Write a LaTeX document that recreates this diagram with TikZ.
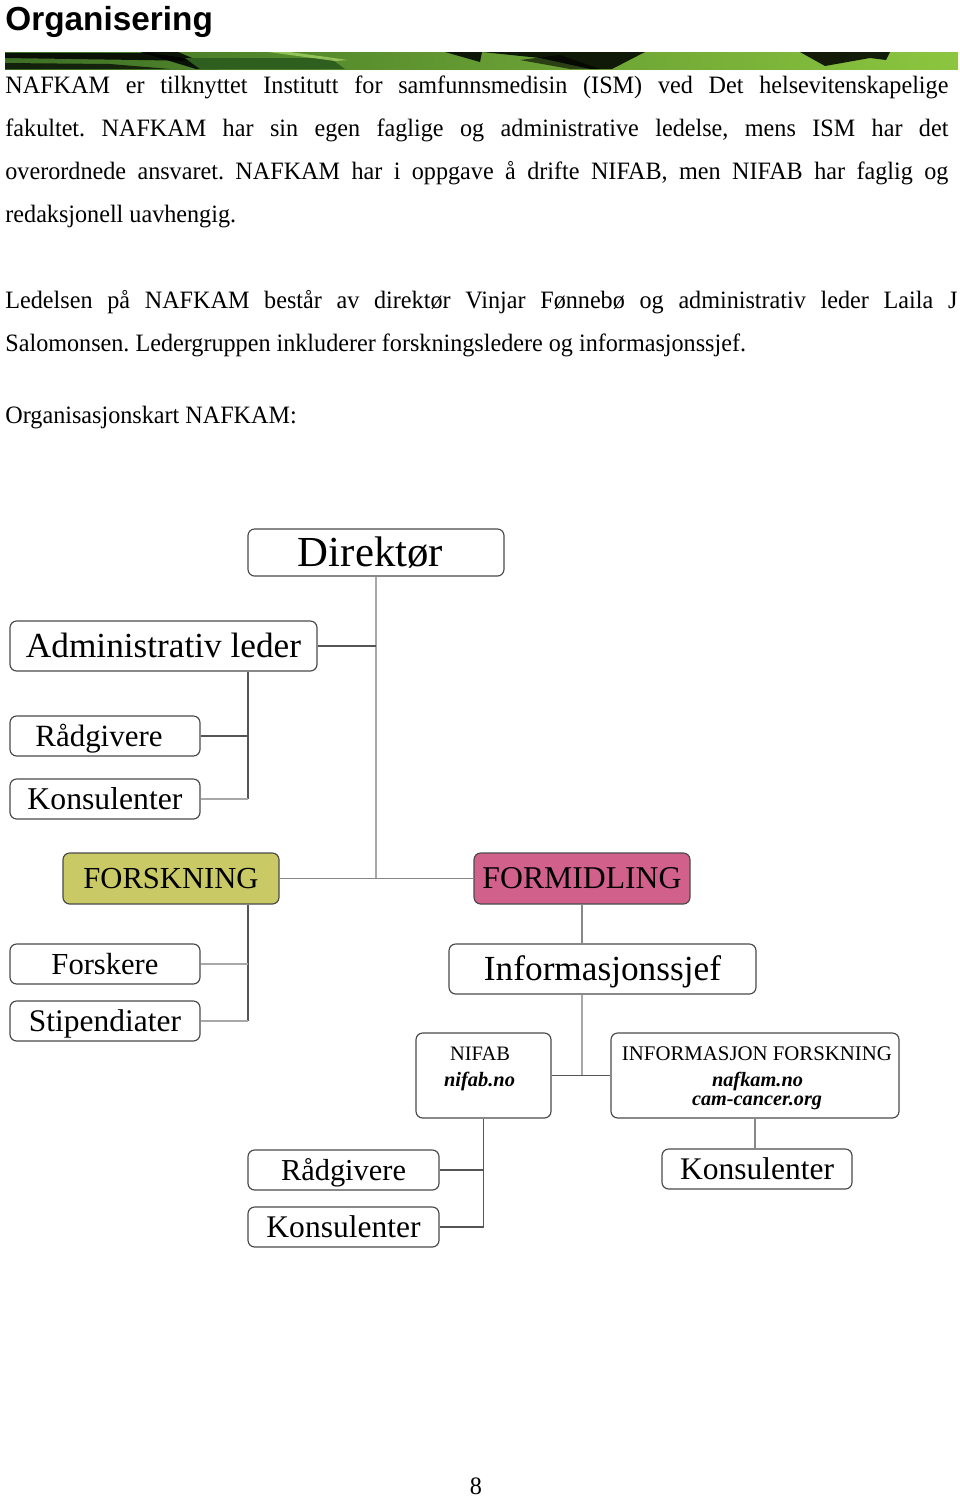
\documentclass[tikz,border=0pt]{standalone}
\usepackage{fontspec}
\usepackage{graphicx}
\newfontfamily\bodyfont[FakeStretch=0.966]{Liberation Serif}
\newfontfamily\chartfont{Liberation Serif}
\newfontfamily\titlefont{Liberation Sans}
\frenchspacing
\newcommand\fw[2]{\resizebox{\dimexpr #1pt*48/100\relax}{!}{\rule[-2.2pt]{0pt}{11pt}#2}}
\newcommand\fwn[2]{\resizebox{\dimexpr #1pt*48/100\relax}{!}{#2}}
\newcommand\jl[2]{\makebox[\dimexpr #1pt*48/100\relax][s]{#2}}
\newcommand\pxsp[1]{\kern\dimexpr #1pt*48/100\relax\relax}
\definecolor{forskc}{HTML}{C9C966}
\definecolor{formidc}{HTML}{D1618B}
\definecolor{bdr}{HTML}{4A4A4A}
\definecolor{lnd}{HTML}{555555}
\definecolor{lnl}{HTML}{A8A8A8}
\definecolor{lnm}{HTML}{888888}
\definecolor{gA}{HTML}{3D6F25}
\definecolor{gB}{HTML}{5E9E35}
\definecolor{gC}{HTML}{8CC63F}
\definecolor{gD}{HTML}{2F5F1F}
\begin{document}
\begin{tikzpicture}[x=0.48pt,y=-0.48pt,
  box/.style={draw=bdr, line width=0.55pt, rounded corners=3.2pt, inner sep=0pt, fill=white, font=\chartfont},
  sz/.style 2 args={minimum width=#1*0.48pt, minimum height=#2*0.48pt},
  txt/.style={anchor=base west, inner sep=0pt, font=\bodyfont\fontsize{12}{14}\selectfont},
  small/.style={anchor=base, inner sep=0pt, font=\chartfont},
  con/.style={line width=0.5pt}]
\useasboundingbox[fill=white] (0,0) rectangle (960,1498);

% header
\node[anchor=base west, inner sep=0pt, font=\titlefont\fontsize{16}{19}\selectfont\bfseries] (title) at (5,30) {Organisering};
\shade[left color=gA, middle color=gB, right color=gC] (5,52) rectangle (958,69);
\fill[black, opacity=0.85] (5,53) -- (150,53) -- (205,61) -- (5,58) -- cycle;
\fill[black, opacity=0.7] (5,63) -- (110,64) -- (170,69) -- (5,69) -- cycle;
\fill[black, opacity=0.85] (140,52) -- (178,52) -- (218,69) -- (196,69) -- cycle;
\fill[gD] (185,58) -- (330,58) -- (345,69) -- (200,69) -- cycle;
\fill[gC!80!white, opacity=0.8] (268,52) -- (290,52) -- (348,60) -- (335,61) -- cycle;
\fill[black, opacity=0.85] (445,52) -- (482,52) -- (480,62) -- cycle;
\fill[black, opacity=0.85] (482,52) -- (645,52) -- (612,69) -- (590,69) -- (540,58) -- cycle;
\fill[black, opacity=0.6] (520,60) -- (560,55) -- (600,69) -- (570,69) -- cycle;
\fill[black, opacity=0.85] (800,52) -- (890,52) -- (886,60) -- (870,58) -- (825,66) -- cycle;

% body text
\node[txt] (l1) at (5,93) {\jl{943}{NAFKAM er tilknyttet Institutt for samfunnsmedisin (ISM) ved Det helsevitenskapelige}};
\node[txt] (l2) at (5,136) {\jl{943}{fakultet. NAFKAM har sin egen faglige og administrative ledelse, mens ISM har det}};
\node[txt] (l3) at (5,179) {\jl{943}{overordnede ansvaret. NAFKAM har i oppgave å drifte NIFAB, men NIFAB har faglig og}};
\node[txt] (l4) at (5,222) {redaksjonell uavhengig.};
\node[txt] (l5) at (5,308) {\jl{952}{Ledelsen på NAFKAM består av direktør Vinjar Fønnebø og administrativ leder Laila J}};
\node[txt] (l6) at (5,351) {Salomonsen. Ledergruppen inkluderer forskningsledere og informasjonssjef.};
\node[txt] (l7) at (5,423) {Organisasjonskart NAFKAM:};
\node[txt, anchor=base] (pg) at (476,1494) {8};

% chart boxes
\node[box, sz={256}{47}] (dir) at (376,552.5) {\fw{145}{Direktør}\pxsp{11}};
\node[box, sz={307}{50}] (adm) at (163.5,646) {\fw{275}{Administrativ leder}};
\node[box, sz={190}{40}] (rad1) at (105,736) {\fw{127}{Rådgivere}\pxsp{12}};
\node[box, sz={190}{40}] (kon1) at (105,799) {\fw{155}{Konsulenter}};
\node[box, fill=forskc, sz={216}{51}] (fors) at (171,878.5) {\fw{175}{FORSKNING}};
\node[box, fill=formidc, sz={216}{51}] (form) at (582,878.5) {\fw{199}{FORMIDLING}};
\node[box, sz={190}{40}] (forsk) at (105,964) {\fw{107}{Forskere}};
\node[box, sz={190}{40}] (stip) at (105,1021) {\fw{152}{Stipendiater}};
\node[box, sz={307}{50}] (info) at (602.5,969) {\fw{237}{Informasjonssjef}};
\node[box, sz={135}{85}] (nifab) at (483.5,1075.5) {};
\node[box, sz={288}{85}] (infof) at (755,1075.5) {};
\node[box, sz={191}{40}] (rad2) at (343.5,1170) {\fw{125}{Rådgivere}};
\node[box, sz={191}{40}] (kon2) at (343.5,1227) {\fw{154}{Konsulenter}};
\node[box, sz={190}{40}] (kon3) at (757,1169) {\fw{154}{Konsulenter}};

\node[small] (nifab1) at (480,1060) {\fwn{60}{NIFAB}};
\node[small] (nifab2) at (479.5,1086) {\fwn{71}{\bfseries\itshape nifab.no}};
\node[small] (infof1) at (757,1060) {\fwn{270}{INFORMASJON FORSKNING}};
\node[small] (infof2) at (757.5,1086) {\fwn{91}{\bfseries\itshape nafkam.no}};
\node[small] (infof3) at (757,1105) {\fwn{130}{\bfseries\itshape cam-cancer.org}};

% connectors
\coordinate (ta) at (248,799);
\coordinate (tf) at (248,1021);
\coordinate (ti) at (582,1075.5);
\coordinate (tn) at (483.5,1227);
\draw[con, lnl] (dir.south) -- (dir.south |- fors.east);
\draw[con, lnd] (adm.east) -- (adm.east -| dir.south);
\draw[con, lnd] (adm.south -| ta) -- (ta);
\draw[con, lnd] (rad1.east) -- (rad1.east -| ta);
\draw[con, lnl] (kon1.east) -- (ta);
\draw[con, lnm] (fors.east) -- (form.west);
\draw[con, lnd] (fors.south -| tf) -- (tf);
\draw[con, lnl] (forsk.east) -- (forsk.east -| tf);
\draw[con, lnl] (stip.east) -- (tf);
\draw[con, lnm] (form.south) -- (form.south |- info.north);
\draw[con, lnl] (info.south -| ti) -- (ti);
\draw[con, lnd] (nifab.east) -- (infof.west);
\draw[con, lnd] (nifab.south) -- (tn);
\draw[con, lnd] (rad2.east) -- (rad2.east -| tn);
\draw[con, lnd] (kon2.east) -- (tn);
\draw[con, lnm] (infof.south) -- (infof.south |- kon3.north);
\end{tikzpicture}
\end{document}
